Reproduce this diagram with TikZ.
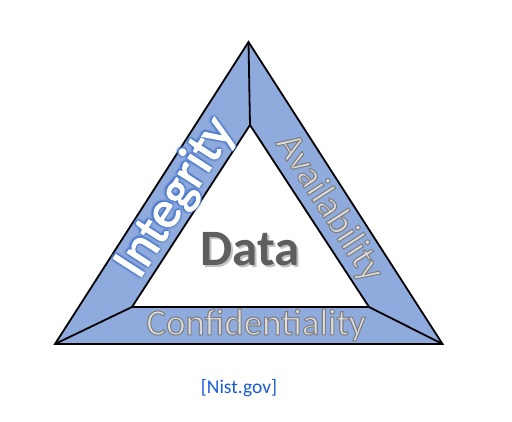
\documentclass[tikz,border=0pt]{standalone}
\usepackage{fontspec}
\setmainfont{Carlito}
\usetikzlibrary{calc}
\definecolor{bandblue}{HTML}{8FAADC}
\definecolor{glowblue}{HTML}{4F7DD0}
\definecolor{lightgreytext}{HTML}{DEDEDE}
\definecolor{datagrey}{HTML}{5E5E5E}
\definecolor{linkblue}{HTML}{1A5AD6}
% outlined text: #1 = stroke rgb, #2 = stroke width, #3 = text
\newcommand\strokedtext[3]{\special{pdf:literal direct #1 RG #2 w 2 Tr}#3\special{pdf:literal direct 0 Tr}}
\begin{document}
\begin{tikzpicture}[x=1pt,y=1pt,
  edge/.style={draw=black,line width=1.8pt,line join=miter},
  bigtxt/.style={inner sep=0pt,font=\fontsize{#1}{#1}\selectfont},
]
\useasboundingbox (0,0) rectangle (512,422);
% outer and inner vertices
\coordinate (A) at (248.5,380);
\coordinate (B) at (55,78);
\coordinate (C) at (442.5,78);
\coordinate (a) at (250,297);
\coordinate (b) at (132,115);
\coordinate (c) at (369,115);
% bands
\fill[bandblue] (B) -- (A) -- (C) -- cycle;
\fill[white] (a) -- (b) -- (c) -- cycle;
\draw[edge] (B) -- (A) -- (C) -- cycle;
\draw[edge] (a) -- (b) -- (c) -- cycle;
\draw[edge] (A) -- (a);
\draw[edge] (B) -- (b);
\draw[edge] (C) -- (c);
% Integrity with blue glow
\coordinate (ipos) at (176,224);
\foreach \r/\op in {3.4/0.12,2.3/0.25,1.4/0.4}{
  \foreach \ang in {0,30,...,330}{
    \node[bigtxt=52,rotate=57.3,text=glowblue,opacity=\op] at ($(ipos)+(\ang:\r)$) {Integrity};
  }
}
\node[bigtxt=52,rotate=57.3,text=white] (integ) at (ipos)
  {\strokedtext{1 1 1}{1.2}{Integrity}};
% Availability / Confidentiality: light grey with grey outline
\node[bigtxt=38,rotate=-57.2,text=lightgreytext] (avail) at (329,214)
  {\strokedtext{0.5 0.5 0.5}{1.1}{Availability}};
\node[bigtxt=37,text=lightgreytext] (conf) at (256,97)
  {\strokedtext{0.5 0.5 0.5}{1.1}{Confidentiality}};
% Data with shadow
\coordinate (dpos) at (250,173);
\node[bigtxt=51,text=black!30,opacity=0.8] at ($(dpos)+(1.8,-1.8)$) {\bfseries Data};
\node[bigtxt=51,text=datagrey] (data) at (dpos) {\bfseries Data};
% source
\node[font=\fontsize{19.5}{19.5}\selectfont,text=linkblue,inner sep=0pt] (src) at (239,34) {[Nist.gov]};
\end{tikzpicture}
\end{document}
